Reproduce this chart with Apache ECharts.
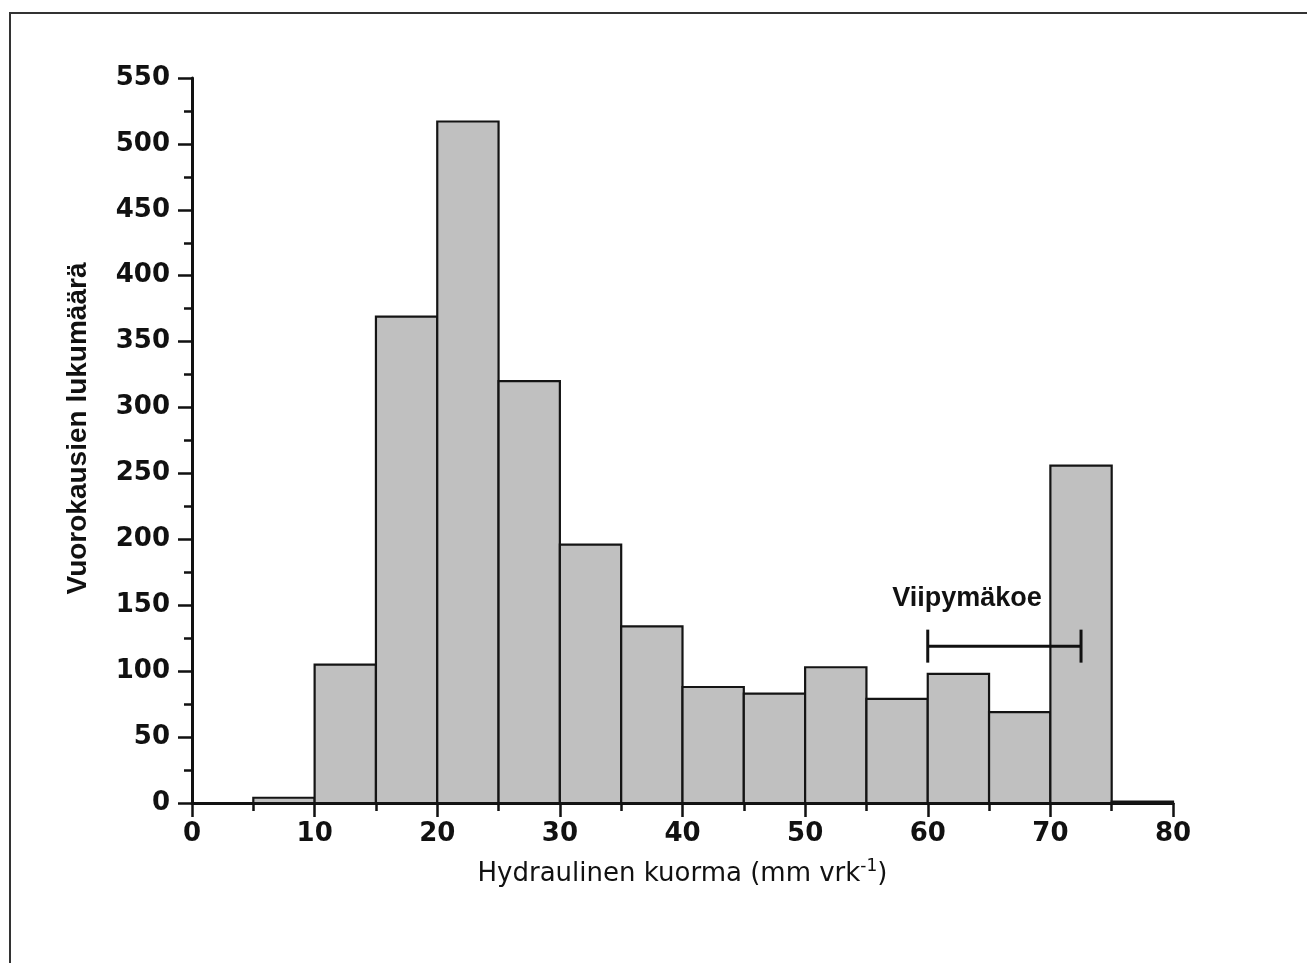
<!DOCTYPE html>
<html>
<head>
<meta charset="utf-8">
<script src="https://cdn.jsdelivr.net/npm/echarts@6/dist/echarts.min.js"></script>
<style>
html,body{margin:0;padding:0;background:#fff;}
#chart{width:1307px;height:963px;}
</style>
</head>
<body>
<div id="chart"></div>
<script>
// Histogram bins (mm vrk^-1) and day counts
const binLower = [5, 10, 15, 20, 25, 30, 35, 40, 45, 50, 55, 60, 65, 70, 75];
const binUpper = [10, 15, 20, 25, 30, 35, 40, 45, 50, 55, 60, 65, 70, 75, 80];
const counts   = [4, 105, 369, 517, 320, 196, 134, 88, 83, 103, 79, 98, 69, 256, 1];

// Axis ranges
const xRange = [0, 80, 10];
const yRange = [0, 550, 50];

// Annotation: "Viipymäkoe" range bracket
const bracketStart = [60];
const bracketEnd = [72.5];
const bracketLevel = [119];
const annotationText = ['Viipymäkoe'];
const annotationPos = [[63.2, 155]];

const xTitle = 'Hydraulinen kuorma (mm vrk';
const xTitleSup = '-1';
const yTitle = 'Vuorokausien lukumäärä';

const histData = binLower.map((lo, i) => [lo, binUpper[i], counts[i]]);
const bracketData = bracketStart.map((s, i) => [s, bracketEnd[i], bracketLevel[i]]);

const ink = '#111';
const chart = echarts.init(document.getElementById('chart'), null, {renderer: 'canvas'});

const tickLabel = {fontFamily: 'DejaVu Sans', fontWeight: 'bold', fontSize: 26, color: ink};

chart.setOption({
  animation: false,
  backgroundColor: '#fff',
  graphic: [{
    type: 'rect',
    shape: {x: 10, y: 13, width: 1400, height: 1000},
    style: {fill: 'none', stroke: '#333', lineWidth: 2},
    silent: true
  }],
  grid: {left: 192, right: 134, top: 78, bottom: 160},
  xAxis: {
    type: 'value',
    min: xRange[0], max: xRange[1], interval: xRange[2],
    axisLine: {show: true, onZero: false, lineStyle: {color: ink, width: 3}},
    axisTick: {show: true, length: 14, lineStyle: {color: ink, width: 2.5}},
    minorTick: {show: true, splitNumber: 2, length: 8, lineStyle: {color: ink, width: 2.5}},
    splitLine: {show: false},
    axisLabel: Object.assign({margin: 18}, tickLabel),
    name: '{t|' + xTitle + '}{s|' + xTitleSup + '}{t|)}',
    nameLocation: 'middle',
    nameGap: 55,
    nameTextStyle: {
      rich: {
        t: {fontFamily: 'DejaVu Sans', fontSize: 26, color: ink, lineHeight: 32},
        s: {fontFamily: 'DejaVu Sans', fontSize: 17, color: ink, lineHeight: 17, verticalAlign: 'top'}
      }
    }
  },
  yAxis: {
    type: 'value',
    min: yRange[0], max: yRange[1], interval: yRange[2],
    axisLine: {show: true, onZero: false, lineStyle: {color: ink, width: 3}},
    axisTick: {show: true, length: 14, lineStyle: {color: ink, width: 2.5}},
    minorTick: {show: true, splitNumber: 2, length: 8, lineStyle: {color: ink, width: 2.5}},
    splitLine: {show: false},
    axisLabel: Object.assign({margin: 22}, tickLabel),
    name: yTitle,
    nameLocation: 'middle',
    nameGap: 100,
    nameTextStyle: {fontFamily: 'Liberation Sans', fontWeight: 'bold', fontSize: 28, color: ink, padding: [0, 0, 0, 24]}
  },
  series: [{
    type: 'custom',
    name: 'counts',
    data: histData,
    encode: {x: [0, 1], y: 2},
    renderItem: function (params, api) {
      const a = api.coord([api.value(0), api.value(2)]);
      const b = api.coord([api.value(1), 0]);
      return {
        type: 'rect',
        shape: {x: a[0], y: a[1], width: b[0] - a[0], height: b[1] - a[1]},
        style: {fill: '#c0c0c0', stroke: '#141414', lineWidth: 2.2}
      };
    }
  }, {
    type: 'custom',
    name: 'bracket',
    data: bracketData,
    encode: {x: [0, 1], y: 2},
    z: 5,
    renderItem: function (params, api) {
      const p0 = api.coord([api.value(0), api.value(2)]);
      const p1 = api.coord([api.value(1), api.value(2)]);
      const h = 16.5;
      const st = {stroke: ink, lineWidth: 3};
      return {
        type: 'group',
        children: [
          {type: 'line', shape: {x1: p0[0], y1: p0[1], x2: p1[0], y2: p1[1]}, style: st},
          {type: 'line', shape: {x1: p0[0], y1: p0[1] - h, x2: p0[0], y2: p0[1] + h}, style: st},
          {type: 'line', shape: {x1: p1[0], y1: p1[1] - h, x2: p1[0], y2: p1[1] + h}, style: st}
        ]
      };
    }
  }, {
    type: 'custom',
    name: 'annotation',
    data: annotationPos,
    z: 6,
    renderItem: function (params, api) {
      const p = api.coord([api.value(0), api.value(1)]);
      return {
        type: 'text',
        x: p[0], y: p[1],
        style: {
          text: annotationText[params.dataIndex],
          fontFamily: 'Liberation Sans', fontWeight: 'bold', fontSize: 27,
          fill: ink, align: 'center', verticalAlign: 'middle'
        }
      };
    }
  }]
});
</script>
</body>
</html>
